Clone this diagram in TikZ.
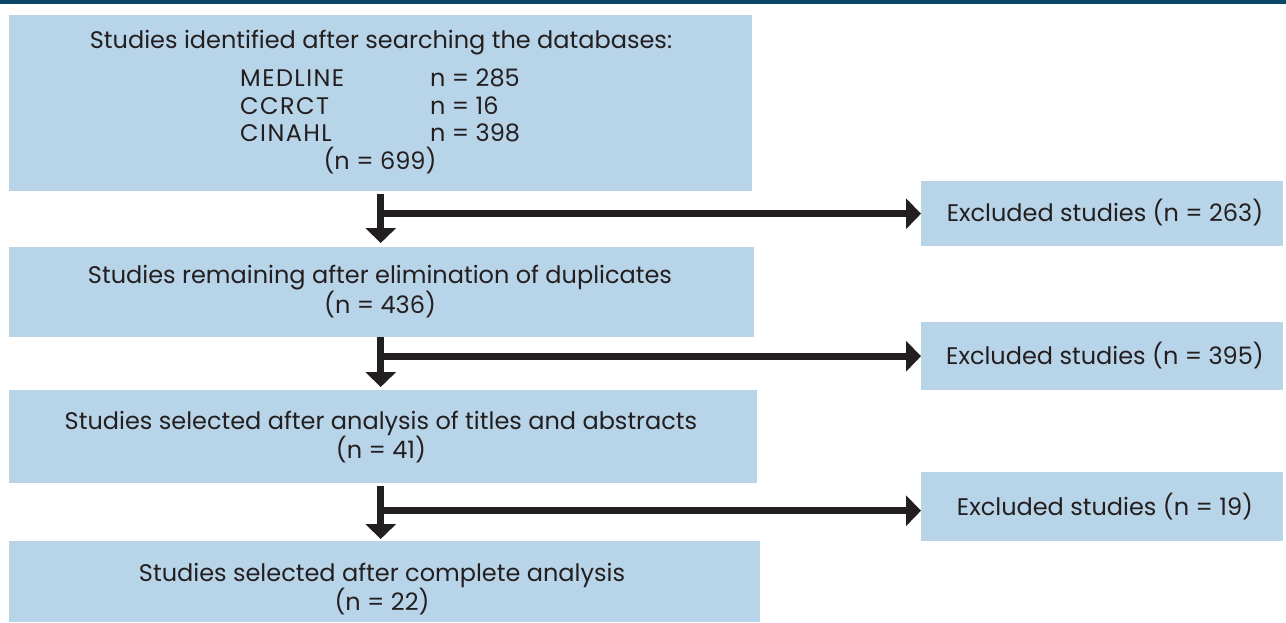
\documentclass[tikz,border=0pt]{standalone}
\usepackage{fontspec}
\setmainfont{Poppins}
\usetikzlibrary{arrows.meta}
\definecolor{boxblue}{RGB}{184,212,232}
\definecolor{ink}{RGB}{35,31,32}
\definecolor{topline}{RGB}{10,70,102}
\begin{document}
\begin{tikzpicture}[x=1pt,y=-1pt,
  box/.style={fill=boxblue, draw=none, anchor=north west, inner sep=0pt},
  txt/.style={text=ink, font=\fontsize{24}{28}\selectfont, inner sep=0pt},
  caps/.style={txt, font=\fontsize{24}{28}\selectfont\addfontfeature{LetterSpace=6}},
  arr/.style={draw=ink, line width=7pt, -{Triangle[width=30pt,length=15pt]}},
  bar/.style={draw=ink, line width=7pt, -{Triangle[width=30pt,length=15pt]}}]
\useasboundingbox (0,0) rectangle (1286,622);
\fill[topline] (0,0) rectangle (1286,3.5);
% main boxes
\node[box, minimum width=743pt, minimum height=176pt] (b1) at (9,15) {};
\node[box, minimum width=745pt, minimum height=90pt] (b2) at (9,247) {};
\node[box, minimum width=748pt, minimum height=93pt] (b3) at (9,390) {};
\node[box, minimum width=751pt, minimum height=81pt] (b4) at (9,541) {};
% excluded boxes
\node[box, minimum width=362pt, minimum height=65pt] (e1) at (921,181) {};
\node[box, minimum width=362pt, minimum height=68pt] (e2) at (921,322) {};
\node[box, minimum width=362pt, minimum height=69pt] (e3) at (921,472) {};
% texts
\node[txt] (t1) at (381,43) {Studies identified after searching the databases:};
\node[caps, anchor=west] (m1) at (240,78) {MEDLINE};
\node[caps, anchor=west] (m2) at (240,106) {CCRCT};
\node[caps, anchor=west] (m3) at (240,133) {CINAHL};
\node[txt, anchor=west] (n1) at (430,78) {n = 285};
\node[txt, anchor=west] (n2) at (430,106) {n = 16};
\node[txt, anchor=west] (n3) at (430,133) {n = 398};
\node[txt] (t1n) at (380,161) {(n = 699)};
\node[txt] (t2) at (380,278) {Studies remaining after elimination of duplicates};
\node[txt] (t2n) at (380,305) {(n = 436)};
\node[txt] (t3) at (381,423) {Studies selected after analysis of titles and abstracts};
\node[txt] (t3n) at (381,450) {(n = 41)};
\node[txt] (t4) at (382,575) {Studies selected after complete analysis};
\node[txt] (t4n) at (382,602) {(n = 22)};
\node[txt] (x1) at (1105,213) {Excluded studies (n = 263)};
\node[txt] (x2) at (1105,356) {Excluded studies (n = 395)};
\node[txt] (x3) at (1105,507) {Excluded studies (n = 19)};
% arrows
\draw[arr, shorten <=3pt, shorten >=4pt] (b1.south) -- (b1.south |- b2.north);
\draw[bar] (b1.south |- e1.west) -- (e1.west);
\draw[arr, shorten <=0pt, shorten >=3pt] (b1.south |- b2.south) -- (b1.south |- b3.north);
\draw[bar] (b1.south |- e2.west) -- (e2.west);
\draw[arr, shorten <=3pt, shorten >=2pt] (b1.south |- b3.south) -- (b1.south |- b4.north);
\draw[bar] ([yshift=-4pt]b1.south |- e3.west) -- ([yshift=-4pt]e3.west);
\end{tikzpicture}
\end{document}
